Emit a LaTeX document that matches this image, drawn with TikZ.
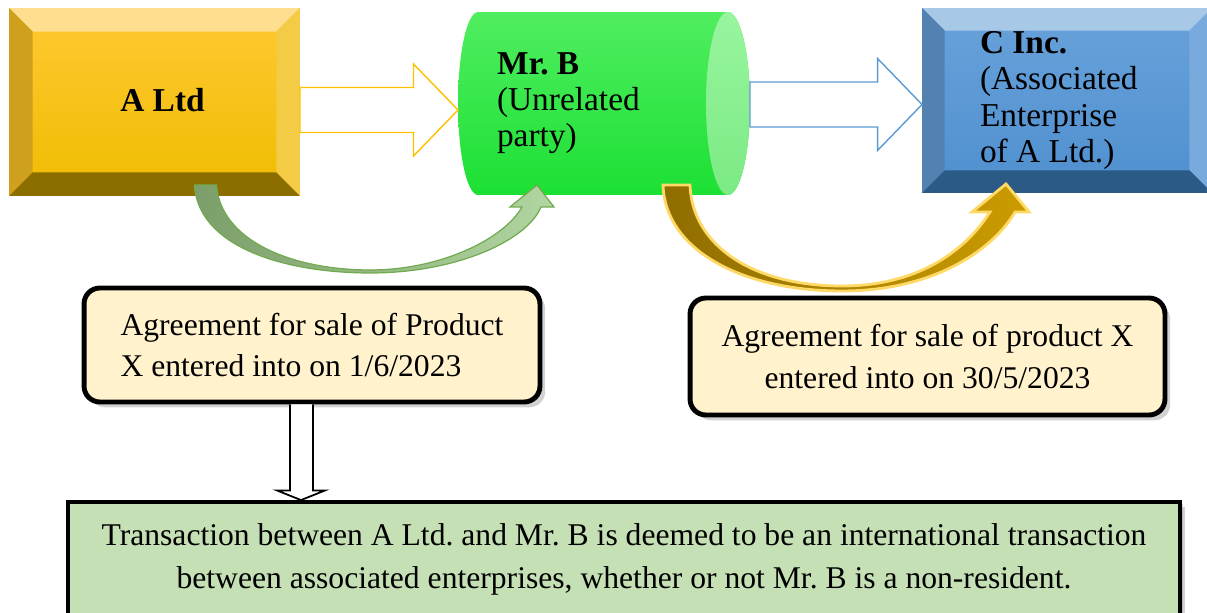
\documentclass[tikz,border=0pt]{standalone}
\usepackage{fontspec}
\setmainfont{Liberation Serif}
\usepackage{xcolor}
\usetikzlibrary{arrows.meta,positioning,calc,backgrounds,shadows}
\frenchspacing

\definecolor{goldTop}{HTML}{FFDE8F}
\definecolor{goldLeft}{HTML}{CFA01E}
\definecolor{goldRight}{HTML}{F4CB45}
\definecolor{goldBot}{HTML}{8B6D00}
\definecolor{goldHi}{HTML}{FFC933}
\definecolor{goldLo}{HTML}{EFBC00}
\definecolor{blueTop}{HTML}{A8C8E8}
\definecolor{blueLeft}{HTML}{5381B0}
\definecolor{blueRight}{HTML}{78AADD}
\definecolor{blueBot}{HTML}{2C5A86}
\definecolor{blueHi}{HTML}{68A2DA}
\definecolor{blueLo}{HTML}{4F8FCF}
\definecolor{cylHi}{HTML}{50EE60}
\definecolor{cylLo}{HTML}{1CE034}
\definecolor{cylEndHi}{HTML}{98F59E}
\definecolor{cylEndLo}{HTML}{7BEA84}
\definecolor{cream}{HTML}{FFF2CC}
\definecolor{sage}{HTML}{C5E0B4}
\definecolor{arrGold}{HTML}{FFC000}
\definecolor{arrBlue}{HTML}{5B9BD5}
\definecolor{leafDark}{HTML}{7C9E6A}
\definecolor{leafLight}{HTML}{B2D6A1}
\definecolor{leafEdge}{HTML}{72AA50}
\definecolor{bronzeDark}{HTML}{8F6D00}
\definecolor{bronzeLight}{HTML}{CC9C00}
\definecolor{bronzeEdge}{HTML}{FFD966}

% bevel frame round a rectangle node: node, top, left, right, bottom, depth
\newcommand\bevelframe[6]{%
  \fill[#2] (#1.north west) -- (#1.north east) -- ([shift={(-#6,-#6)}]#1.north east) -- ([shift={(#6,-#6)}]#1.north west) -- cycle;
  \fill[#3] (#1.north west) -- ([shift={(#6,-#6)}]#1.north west) -- ([shift={(#6,#6)}]#1.south west) -- (#1.south west) -- cycle;
  \fill[#4] (#1.north east) -- ([shift={(-#6,-#6)}]#1.north east) -- ([shift={(-#6,#6)}]#1.south east) -- (#1.south east) -- cycle;
  \fill[#5] (#1.south west) -- ([shift={(#6,#6)}]#1.south west) -- ([shift={(-#6,#6)}]#1.south east) -- (#1.south east) -- cycle;}
% wide outlined arrow: style, from, to
\newcommand\fatarrow[3]{%
  \draw[#1] let \p1=#2, \p2=#3 in
    (\x1,\y1+0.45cm) -- (\x2-0.89cm,\y1+0.45cm) -- (\x2-0.89cm,\y1+0.92cm) -- (\x2,\y1)
    -- (\x2-0.89cm,\y1-0.92cm) -- (\x2-0.89cm,\y1-0.45cm) -- (\x1,\y1-0.45cm) -- cycle;}

\begin{document}
\begin{tikzpicture}[x=0.02cm, y=-0.02cm,
  bevelbox/.style={rectangle, inner sep=0pt, outer sep=0pt, font=\fontsize{19}{20.5}\selectfont},
  infobox/.style={draw, line width=2.8pt, rounded corners=9pt, fill=cream, inner sep=0pt,
    drop shadow={opacity=0.35, shadow xshift=3pt, shadow yshift=-3pt},
    font=\fontsize{18}{23.5}\selectfont},
  fatarr/.style={fill=white, line width=0.8pt},
  curvearr/.style={line width=0.7pt}]
  \useasboundingbox (0,0) rectangle (1207,612);
  \begin{scope}[on background layer]
    \fill[white] (0,0) rectangle (1207,612);
  \end{scope}
  % top row
  \node[bevelbox, top color=goldHi, bottom color=goldLo, minimum width=5.82cm, minimum height=3.76cm] (altd) at (154.5,102) {\raisebox{0.08cm}{\textbf{A Ltd}}\hspace*{-0.32cm}};
  \bevelframe{altd}{goldTop}{goldLeft}{goldRight}{goldBot}{0.47cm}
  \node[bevelbox, minimum width=5.84cm, minimum height=3.66cm, text width=4.28cm, align=flush left] (mrb) at (604,103.5) {\textbf{Mr. B}\\(Unrelated\\party)};
  \begin{scope}[on background layer]
    \path[top color=cylHi, bottom color=cylLo] ($(mrb.north west)+(20,0)$) -- ($(mrb.north east)+(-22,0)$)
      arc[start angle=90, end angle=-90, x radius=0.44cm, y radius=1.83cm]
      -- ($(mrb.south west)+(20,0)$)
      arc[start angle=270, end angle=90, x radius=0.4cm, y radius=1.83cm] -- cycle;
    \path[top color=cylEndHi, bottom color=cylEndLo] ($(mrb.east)+(-22,0)$) ellipse[x radius=0.44cm, y radius=1.83cm];
  \end{scope}
  \node[bevelbox, top color=blueHi, bottom color=blueLo, minimum width=5.8cm, minimum height=3.7cm, text width=3.48cm, align=flush left] (cinc) at (1067,100.5) {\textbf{C Inc.}\\(Associated\\Enterprise\\of A Ltd.)};
  \bevelframe{cinc}{blueTop}{blueLeft}{blueRight}{blueBot}{0.45cm}
  \fatarrow{fatarr, draw=arrGold}{($(altd.east)+(0,8)$)}{(mrb.west)}
  \fatarrow{fatarr, draw=arrBlue}{($(mrb.east)+(0,1)$)}{(cinc.west)}
  % agreements and outcome
  \node[infobox, minimum width=9.12cm, minimum height=2.28cm, align=flush left] (agr1) at (312,345)
    {Agreement for sale of Product\\X entered into on 1/6/2023};
  \node[infobox, minimum width=9.5cm, minimum height=2.34cm, align=center] (agr2) at (927.5,356.5)
    {Agreement for sale of product X\\entered into on 30/5/2023};
  \node[infobox, fill=sage, sharp corners, line width=2.2pt, minimum width=22.24cm, minimum height=2.28cm, align=center,
    drop shadow={opacity=0.3, shadow xshift=2pt, shadow yshift=-1pt}, font=\fontsize{18}{24.4}\selectfont] (concl) at (624,559)
    {Transaction between A Ltd. and Mr. B is deemed to be an international transaction\\between associated enterprises, whether or not Mr. B is a non-resident.};
  % curved arrows under the top row
  \path[curvearr, draw=leafEdge, left color=leafDark, right color=leafLight]
    ($(altd.south)+(40,-11)$) .. controls +(3,60) and +(-90,0) .. ($(altd.south)+(216,77)$)
    .. controls +(85,0) and +(-14,34) .. ($(mrb.south)+(-63,12)$)
    -- ++(13,0) -- ($(mrb.south)+(-67,-10)$) -- ++(-27,22) -- ++(12,0)
    .. controls +(-18,32) and +(70,0) .. ($(altd.south)+(216,74)$)
    .. controls +(-80,0) and +(4,55) .. ($(altd.south)+(62,-11)$) -- cycle;
  \path[curvearr, line width=1.6pt, draw=bronzeEdge, left color=bronzeDark, right color=bronzeLight]
    ($(mrb.south)+(59,-10)$) .. controls +(2,65) and +(-100,0) .. ($(mrb.south)+(238,96)$)
    .. controls +(95,0) and +(-20,35) .. ($(cinc.south)+(-52,19)$)
    -- ++(14,0) -- ($(cinc.south)+(-61,-9)$) -- ++(-34,28) -- ++(18,0)
    .. controls +(-22,35) and +(80,0) .. ($(mrb.south)+(238,91)$)
    .. controls +(-90,0) and +(2,60) .. ($(mrb.south)+(86,-10)$) -- cycle;
  % down arrow to the outcome
  \draw[fatarr, line width=1pt] ($(agr1.south)+(-22,0)$) -- ++(0,86) -- ++(-13,0)
    -- ($(agr1.south |- concl.north)+(-11,0)$) -- ($(agr1.south)+(13,86)$) -- ++(-12,0) -- ($(agr1.south)+(1,0)$);
\end{tikzpicture}
\end{document}
